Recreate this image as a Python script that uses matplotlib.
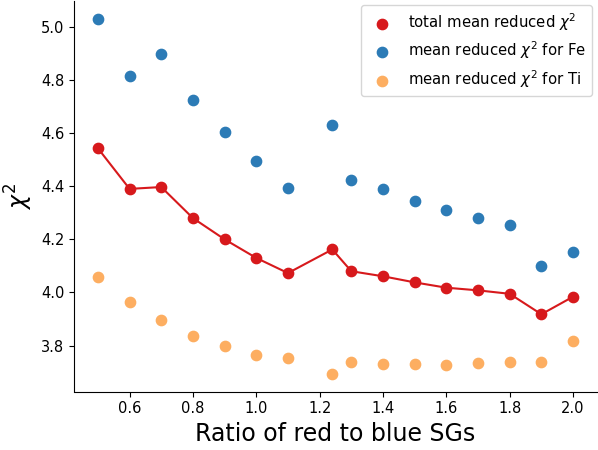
import matplotlib
matplotlib.use("Agg")
import matplotlib.pyplot as plt

# ratio of red to blue SGs
ratio = [0.5, 0.6, 0.7, 0.8, 0.9, 1.0, 1.1, 1.24, 1.3, 1.4, 1.5, 1.6, 1.7, 1.8, 1.9, 2.0]

chi2_total = [4.543, 4.390, 4.397, 4.280, 4.200, 4.130, 4.073, 4.162,
              4.080, 4.061, 4.038, 4.018, 4.008, 3.995, 3.918, 3.984]
chi2_fe = [5.031, 4.816, 4.899, 4.726, 4.603, 4.495, 4.394, 4.629,
           4.423, 4.391, 4.344, 4.312, 4.279, 4.255, 4.098, 4.152]
chi2_ti = [4.057, 3.963, 3.895, 3.837, 3.797, 3.766, 3.753, 3.694,
           3.738, 3.730, 3.732, 3.726, 3.736, 3.738, 3.739, 3.816]

red = "#d7191c"
blue = "#2c7bb6"
orange = "#fdae61"

fig, ax = plt.subplots(figsize=(5.98, 4.5), dpi=100)

ax.plot(ratio, chi2_total, color=red, lw=1.5)
ax.scatter(ratio, chi2_total, color=red, s=55, zorder=3, label=r"total mean reduced $\chi^2$")
ax.scatter(ratio, chi2_fe, color=blue, s=55, label=r"mean reduced $\chi^2$ for Fe")
ax.scatter(ratio, chi2_ti, color=orange, s=55, label=r"mean reduced $\chi^2$ for Ti")

ax.set_xlabel("Ratio of red to blue SGs", fontsize=17)
ax.set_ylabel(r"$\chi^2$", fontsize=17)
ax.set_xticks([0.6, 0.8, 1.0, 1.2, 1.4, 1.6, 1.8, 2.0])
ax.tick_params(labelsize=10.5)

ax.spines["top"].set_visible(False)
ax.spines["right"].set_visible(False)

ax.legend(loc="upper right", fontsize=10.7, labelspacing=0.45,
          borderaxespad=0.3, bbox_to_anchor=(1.0, 1.0))

plt.subplots_adjust(left=0.124, right=0.998, top=0.998, bottom=0.13)
plt.savefig("out.png")
